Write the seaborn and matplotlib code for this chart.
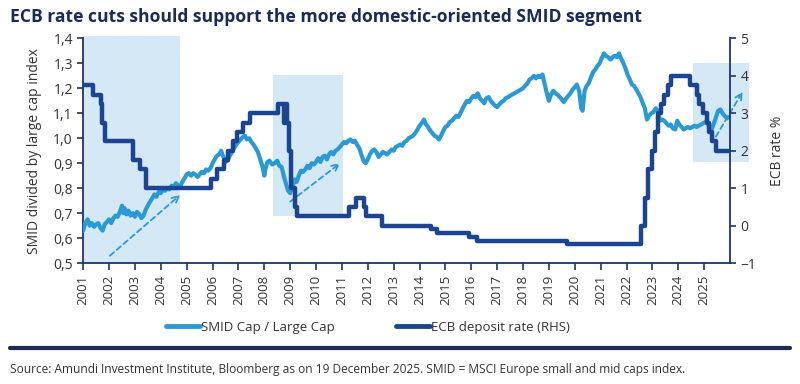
import pandas as pd
import seaborn as sns
import matplotlib.pyplot as plt
from matplotlib.ticker import FuncFormatter
from matplotlib.patches import Rectangle
from matplotlib.lines import Line2D

# data (decimal years)
smid_years = [
    2001.00, 2001.08, 2001.17, 2001.25, 2001.33, 2001.42, 2001.50, 2001.58, 2001.67, 2001.75, 2001.83, 2001.92,
    2002.00, 2002.08, 2002.17, 2002.25, 2002.33, 2002.42, 2002.50, 2002.55, 2002.60, 2002.67, 2002.75, 2002.83, 2002.92,
    2003.00, 2003.08, 2003.17, 2003.25, 2003.33, 2003.42, 2003.50, 2003.58, 2003.67, 2003.75, 2003.83, 2003.92,
    2004.00, 2004.08, 2004.17, 2004.25, 2004.33, 2004.42, 2004.50, 2004.58, 2004.67, 2004.75, 2004.83, 2004.92,
    2005.00, 2005.08, 2005.17, 2005.25, 2005.33, 2005.42, 2005.50, 2005.58, 2005.67, 2005.75, 2005.83, 2005.92,
    2006.00, 2006.08, 2006.17, 2006.25, 2006.33, 2006.42, 2006.50, 2006.58, 2006.67, 2006.75, 2006.83, 2006.92,
    2007.00, 2007.08, 2007.17, 2007.25, 2007.33, 2007.42, 2007.50, 2007.58, 2007.67, 2007.75, 2007.83, 2007.92,
    2008.00, 2008.05, 2008.12, 2008.20, 2008.30, 2008.40, 2008.50, 2008.58, 2008.67, 2008.75, 2008.83, 2008.92,
    2009.00, 2009.08, 2009.17, 2009.25, 2009.33, 2009.42, 2009.50, 2009.58, 2009.67, 2009.75, 2009.83, 2009.92,
    2010.00, 2010.08, 2010.17, 2010.25, 2010.33, 2010.42, 2010.50, 2010.58, 2010.67, 2010.75, 2010.83, 2010.92,
    2011.00, 2011.08, 2011.17, 2011.25, 2011.33, 2011.42, 2011.50, 2011.58, 2011.67, 2011.75, 2011.83, 2011.92,
    2012.00, 2012.08, 2012.17, 2012.25, 2012.33, 2012.42, 2012.50, 2012.58, 2012.67, 2012.75, 2012.83, 2012.92,
    2013.00, 2013.08, 2013.17, 2013.25, 2013.33, 2013.42, 2013.50, 2013.58, 2013.67, 2013.75, 2013.83, 2013.92,
    2014.00, 2014.08, 2014.17, 2014.25, 2014.33, 2014.42, 2014.50, 2014.58, 2014.67, 2014.75, 2014.83, 2014.92,
    2015.00, 2015.08, 2015.17, 2015.25, 2015.33, 2015.42, 2015.50, 2015.58, 2015.67, 2015.75, 2015.83, 2015.92,
    2016.00, 2016.08, 2016.17, 2016.25, 2016.33, 2016.42, 2016.50, 2016.58, 2016.67, 2016.75, 2016.83, 2016.92,
    2017.00, 2017.08, 2017.17, 2017.25, 2017.33, 2017.42, 2017.50, 2017.58, 2017.67, 2017.75, 2017.83, 2017.92,
    2018.00, 2018.08, 2018.17, 2018.25, 2018.33, 2018.42, 2018.50, 2018.58, 2018.67, 2018.75, 2018.83, 2018.92,
    2019.00, 2019.08, 2019.17, 2019.25, 2019.33, 2019.42, 2019.50, 2019.58, 2019.67, 2019.75, 2019.83, 2019.92,
    2020.00, 2020.08, 2020.17, 2020.25, 2020.30, 2020.38, 2020.46, 2020.54, 2020.63, 2020.71, 2020.79, 2020.88, 2020.96,
    2021.04, 2021.13, 2021.21, 2021.29, 2021.38, 2021.46, 2021.54, 2021.63, 2021.71, 2021.79, 2021.88, 2021.96,
    2022.04, 2022.13, 2022.21, 2022.29, 2022.38, 2022.46, 2022.54, 2022.63, 2022.71, 2022.79, 2022.87, 2022.96,
    2023.04, 2023.13, 2023.21, 2023.29, 2023.38, 2023.46, 2023.54, 2023.63, 2023.71, 2023.79, 2023.88, 2023.96,
    2024.04, 2024.13, 2024.21, 2024.29, 2024.38, 2024.46, 2024.54, 2024.63, 2024.71, 2024.79, 2024.88, 2024.96,
    2025.04, 2025.13, 2025.21, 2025.29, 2025.38, 2025.46, 2025.54, 2025.63, 2025.71, 2025.79, 2025.88, 2025.96,
]
smid_values = [
    0.630, 0.660, 0.675, 0.650, 0.660, 0.645, 0.655, 0.660, 0.640, 0.630, 0.655, 0.665,
    0.675, 0.660, 0.680, 0.690, 0.685, 0.705, 0.730, 0.700, 0.720, 0.695, 0.710, 0.690, 0.700,
    0.685, 0.705, 0.695, 0.680, 0.690, 0.715, 0.730, 0.745, 0.760, 0.775, 0.765, 0.785,
    0.780, 0.795, 0.790, 0.800, 0.795, 0.810, 0.800, 0.820, 0.810, 0.805, 0.825, 0.840,
    0.855, 0.860, 0.850, 0.860, 0.855, 0.845, 0.855, 0.865, 0.860, 0.875, 0.870, 0.880,
    0.900, 0.915, 0.930, 0.935, 0.950, 0.925, 0.905, 0.910, 0.930, 0.945, 0.960, 0.975,
    0.985, 0.995, 1.005, 1.010, 0.995, 1.000, 0.985, 0.975, 0.960, 0.945, 0.920, 0.890,
    0.850, 0.880, 0.905, 0.910, 0.895, 0.900, 0.910, 0.890, 0.885, 0.850, 0.820, 0.790,
    0.780, 0.800, 0.835, 0.825, 0.850, 0.870, 0.865, 0.875, 0.890, 0.880, 0.900, 0.895,
    0.905, 0.920, 0.905, 0.925, 0.930, 0.915, 0.935, 0.945, 0.935, 0.950, 0.955, 0.965,
    0.975, 0.985, 0.980, 0.990, 0.995, 0.985, 0.990, 0.975, 0.960, 0.935, 0.910, 0.900,
    0.915, 0.935, 0.950, 0.955, 0.945, 0.925, 0.935, 0.945, 0.940, 0.935, 0.945, 0.955,
    0.950, 0.965, 0.970, 0.975, 0.970, 0.985, 0.990, 1.000, 1.005, 1.010, 1.020, 1.035,
    1.050, 1.060, 1.075, 1.055, 1.045, 1.030, 1.020, 1.010, 1.005, 0.995, 1.010, 1.030,
    1.045, 1.050, 1.065, 1.070, 1.080, 1.090, 1.085, 1.100, 1.120, 1.135, 1.150, 1.145,
    1.160, 1.170, 1.165, 1.180, 1.160, 1.150, 1.140, 1.160, 1.165, 1.150, 1.140, 1.130,
    1.125, 1.135, 1.145, 1.150, 1.160, 1.165, 1.170, 1.175, 1.180, 1.185, 1.190, 1.195,
    1.200, 1.210, 1.220, 1.235, 1.240, 1.250, 1.240, 1.250, 1.245, 1.255, 1.220, 1.180,
    1.150, 1.175, 1.190, 1.180, 1.175, 1.165, 1.155, 1.145, 1.160, 1.170, 1.180, 1.195,
    1.205, 1.215, 1.190, 1.120, 1.110, 1.190, 1.210, 1.220, 1.245, 1.265, 1.275, 1.290, 1.300,
    1.320, 1.340, 1.330, 1.325, 1.315, 1.325, 1.330, 1.325, 1.340, 1.320, 1.300, 1.280,
    1.255, 1.235, 1.215, 1.210, 1.195, 1.180, 1.165, 1.140, 1.120, 1.075, 1.090, 1.100,
    1.105, 1.120, 1.110, 1.070, 1.075, 1.070, 1.060, 1.050, 1.055, 1.040, 1.035, 1.070,
    1.055, 1.045, 1.035, 1.040, 1.045, 1.040, 1.045, 1.050, 1.045, 1.050, 1.055, 1.060,
    1.065, 1.060, 1.045, 1.035, 1.060, 1.085, 1.110, 1.115, 1.100, 1.090, 1.080, 1.085,
]

# ECB deposit facility rate, change dates and levels
ecb_years = [
    2001.00, 2001.36, 2001.67, 2001.72, 2001.86, 2002.93, 2003.18, 2003.43,
    2005.93, 2006.18, 2006.45, 2006.61, 2006.78, 2006.95, 2007.19, 2007.45,
    2008.52, 2008.77, 2008.79, 2008.87, 2008.94, 2009.05, 2009.19, 2009.27,
    2011.27, 2011.53, 2011.86, 2011.95, 2012.53, 2014.44, 2014.69, 2015.93,
    2016.21, 2019.71, 2022.57, 2022.70, 2022.84, 2022.97, 2023.10, 2023.22,
    2023.35, 2023.46, 2023.59, 2023.71, 2024.46, 2024.71, 2024.79, 2024.96,
    2025.11, 2025.19, 2025.31, 2025.44, 2025.97,
]
ecb_rates = [
    3.75, 3.50, 3.25, 2.75, 2.25, 1.75, 1.50, 1.00,
    1.25, 1.50, 1.75, 2.00, 2.25, 2.50, 2.75, 3.00,
    3.25, 2.75, 3.25, 2.75, 2.00, 1.00, 0.50, 0.25,
    0.50, 0.75, 0.50, 0.25, 0.00, -0.10, -0.20, -0.30,
    -0.40, -0.50, 0.00, 0.75, 1.50, 2.00, 2.50, 3.00,
    3.25, 3.50, 3.75, 4.00, 3.75, 3.50, 3.25, 3.00,
    2.75, 2.50, 2.25, 2.00, 2.00,
]

year_ticks = list(range(2001, 2026))
left_ticks = [0.5, 0.6, 0.7, 0.8, 0.9, 1.0, 1.1, 1.2, 1.3, 1.4]
right_ticks = [-1, 0, 1, 2, 3, 4, 5]

# shaded periods: (x0, x1, y0, y1) on the left axis
shades = [(2001.0, 2004.74, 0.5, 1.41), (2008.34, 2011.05, 0.69, 1.253), (2024.58, 2026.72, 0.904, 1.30)]
# trend arrows: (x_start, y_start, x_end, y_end)
arrows = [(2002.03, 0.529, 2004.75, 0.773), (2009.0, 0.746, 2010.93, 0.90), (2025.45, 1.006, 2026.49, 1.186)]

LIGHT = "#2a9ad6"
DARK = "#1b4592"
SHADE = "#d5e8f6"
TXT = "#333333"
SPINE = "#1f3468"

sns.set_style("white")
plt.rcParams['font.family'] = ['Open Sans', 'DejaVu Sans']

smid_df = pd.DataFrame({"year": smid_years, "ratio": smid_values})
ecb_df = pd.DataFrame({"year": ecb_years, "rate": ecb_rates})

fig = plt.figure(figsize=(8, 3.84), dpi=100)
ax = fig.add_axes([0.104, 0.315, 0.8085, 0.585])
ax2 = ax.twinx()

for x0, x1, y0, y1 in shades:
    ax.add_patch(Rectangle((x0, y0), x1 - x0, y1 - y0, facecolor=SHADE, edgecolor="none",
                           clip_on=False, zorder=0))

sns.lineplot(data=smid_df, x="year", y="ratio", ax=ax, color=LIGHT, linewidth=3.0, zorder=3)
sns.lineplot(data=ecb_df, x="year", y="rate", ax=ax2, color=DARK, linewidth=3.2,
             drawstyle="steps-post", zorder=3)

for xs, ys, xe, ye in arrows:
    ax.annotate("", xy=(xe, ye), xytext=(xs, ys), annotation_clip=False,
                arrowprops=dict(arrowstyle="->", color=LIGHT, lw=1.3, linestyle=(0, (3, 2)),
                                shrinkA=0, shrinkB=0, mutation_scale=12), zorder=4)

ax.set_xlim(2001, 2026)
ax.set_ylim(0.5, 1.4)
ax2.set_ylim(-1, 5)
ax.set_xticks(year_ticks)
ax.set_xticklabels([str(y) for y in year_ticks], rotation=90)
ax.set_yticks(left_ticks)
ax.yaxis.set_major_formatter(FuncFormatter(lambda v, p: f"{v:.1f}".replace(".", ",")))
ax2.set_yticks(right_ticks)

ax.set_xlabel("")
ax.set_ylabel("SMID divided by large cap index", fontsize=10, color=TXT, labelpad=8)
ax2.set_ylabel("ECB rate %", fontsize=10, color=TXT, labelpad=10)

for a in (ax, ax2):
    a.spines["top"].set_visible(False)
    for side in ("left", "right", "bottom"):
        a.spines[side].set_color(SPINE)
        a.spines[side].set_linewidth(1.3)
ax.spines["right"].set_visible(False)
ax2.spines["left"].set_visible(False)
ax2.spines["bottom"].set_visible(False)

ax.tick_params(axis="x", colors=SPINE, labelcolor=TXT, labelsize=9.5, length=5, width=1.2, direction="out", bottom=True)
ax.tick_params(axis="y", colors=SPINE, labelcolor=TXT, labelsize=10, length=4, width=1.2, direction="out", left=True)
ax2.tick_params(axis="y", colors=SPINE, labelcolor=TXT, labelsize=10, length=4, width=1.2, direction="out", right=True)
ax.grid(False)
ax2.grid(False)

handles = [Line2D([0], [0], color=LIGHT, lw=3.5), Line2D([0], [0], color=DARK, lw=3.5)]
fig.legend(handles, ["SMID Cap / Large Cap", "ECB deposit rate (RHS)"], loc="center",
           bbox_to_anchor=(0.46, 0.148), ncol=2, frameon=False, fontsize=9.5,
           handlelength=2.6, handletextpad=0.1, columnspacing=4.6, labelcolor=TXT)

fig.text(0.0125, 0.955, "ECB rate cuts should support the more domestic-oriented SMID segment",
         fontsize=12.6, fontweight="bold", color="#1b2a58", va="center", ha="left")
fig.add_artist(Line2D([0.0125, 0.9875], [0.094, 0.094], color="#1f2a55", lw=3.0))
fig.text(0.0125, 0.037, "Source: Amundi Investment Institute, Bloomberg as on 19 December 2025. "
         "SMID = MSCI Europe small and mid caps index.", fontsize=8.6, color=TXT, va="center", ha="left")

fig.savefig("out.png", dpi=100)
